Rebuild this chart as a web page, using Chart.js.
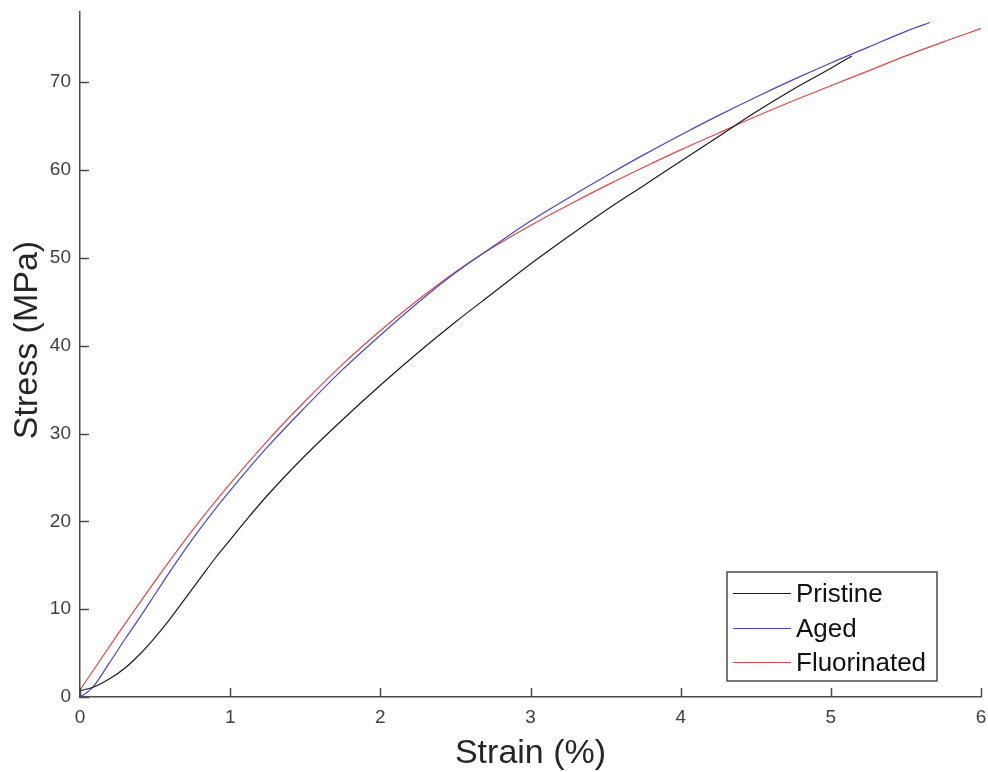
<!DOCTYPE html>
<html>
<head>
<meta charset="utf-8">
<title>Stress - Strain</title>
<script src="https://cdn.jsdelivr.net/npm/chart.js@4.4.1/dist/chart.umd.min.js"></script>
<style>
    html, body { margin: 0; padding: 0; background: #ffffff; }
    canvas { display: block; }
</style>
</head>
<body>
<canvas id="graficoTracao" width="988" height="772"></canvas>
<script>
// Curvas de tracao: deformacao em %, tensao em MPa
const pristineStrain = [0, 0.1, 0.2, 0.3, 0.4, 0.5, 0.6, 0.7, 0.8, 0.9, 1, 1.1, 1.25, 1.5, 1.75, 2, 2.25, 2.5, 2.75, 3, 3.25, 3.5, 3.75, 4, 4.25, 4.5, 4.75, 5, 5.14];
const pristineStress = [0.7, 1.2, 2.1, 3.3, 4.9, 6.8, 8.9, 11.2, 13.5, 15.8, 17.9, 20.0, 23.0, 27.5, 31.6, 35.5, 39.2, 42.7, 46.0, 49.3, 52.4, 55.4, 58.2, 61.0, 63.8, 66.6, 69.2, 71.6, 73.0];

const agedStrain = [0, 0.08, 0.2, 0.3, 0.4, 0.5, 0.6, 0.75, 0.9, 1, 1.25, 1.5, 1.75, 2, 2.25, 2.5, 2.75, 3, 3.25, 3.5, 3.75, 4, 4.25, 4.5, 4.75, 5, 5.25, 5.5, 5.66];
const agedStress = [0, 1.0, 4.0, 6.6, 9.1, 11.7, 14.3, 18.0, 21.4, 23.5, 28.5, 33.0, 37.3, 41.2, 44.9, 48.3, 51.3, 54.2, 56.8, 59.3, 61.7, 64.0, 66.2, 68.3, 70.3, 72.2, 74.0, 75.8, 76.8];

const fluorinatedStrain = [0, 0.25, 0.5, 0.75, 1, 1.25, 1.5, 1.75, 2, 2.25, 2.5, 2.75, 3, 3.25, 3.5, 3.75, 4, 4.25, 4.5, 4.75, 5, 5.25, 5.5, 5.75, 6];
const fluorinatedStress = [0.8, 7.1, 13.2, 19.0, 24.3, 29.2, 33.7, 37.9, 41.7, 45.2, 48.4, 51.2, 53.7, 56.0, 58.2, 60.3, 62.3, 64.2, 66.1, 67.9, 69.6, 71.3, 73.0, 74.6, 76.1];

const strainTicks = [0, 1, 2, 3, 4, 5, 6];
const stressTicks = [0, 10, 20, 30, 40, 50, 60, 70];

const FONTE = "'Liberation Sans', Arial, sans-serif";
const COR_EIXO = '#4a4a4a';

const pares = (xs, ys) => xs.map((x, i) => ({ x: x, y: ys[i] }));

// Ticks para dentro, titulos dos eixos e legenda no canto inferior direito
const eixosExtras = {
    id: 'eixosExtras',
    afterDraw(chart) {
        const { ctx, chartArea: area, scales: { x, y } } = chart;
        ctx.save();

        ctx.strokeStyle = COR_EIXO;
        ctx.lineWidth = 1.5;
        ctx.beginPath();
        x.ticks.forEach(t => {
            const px = Math.round(x.getPixelForValue(t.value)) + 0.5;
            ctx.moveTo(px, area.bottom);
            ctx.lineTo(px, area.bottom - 9);
        });
        y.ticks.forEach(t => {
            const py = Math.round(y.getPixelForValue(t.value)) + 0.5;
            ctx.moveTo(area.left, py);
            ctx.lineTo(area.left + 9, py);
        });
        ctx.stroke();

        ctx.fillStyle = '#262626';
        ctx.font = '34px ' + FONTE;
        ctx.textAlign = 'center';
        ctx.textBaseline = 'alphabetic';
        ctx.fillText('Strain (%)', (area.left + area.right) / 2, 763);

        ctx.save();
        ctx.translate(37, 340);
        ctx.rotate(-Math.PI / 2);
        ctx.fillText('Stress (MPa)', 0, 0);
        ctx.restore();

        // legenda
        const caixa = { left: area.right - 254, top: area.bottom - 125, w: 210, h: 109 };
        ctx.fillStyle = '#ffffff';
        ctx.fillRect(caixa.left, caixa.top, caixa.w, caixa.h);
        ctx.strokeStyle = COR_EIXO;
        ctx.lineWidth = 1.5;
        ctx.strokeRect(caixa.left, caixa.top, caixa.w, caixa.h);

        ctx.font = '26px ' + FONTE;
        ctx.textAlign = 'left';
        ctx.textBaseline = 'middle';
        chart.data.datasets.forEach((ds, i) => {
            const ly = Math.round(caixa.top + 21 + i * 34.5) + 0.5;
            ctx.strokeStyle = ds.borderColor;
            ctx.lineWidth = 1.2;
            ctx.beginPath();
            ctx.moveTo(caixa.left + 6, ly);
            ctx.lineTo(caixa.left + 64, ly);
            ctx.stroke();
            ctx.fillStyle = '#111111';
            ctx.fillText(ds.label, caixa.left + 69, ly + 1);
        });

        ctx.restore();
    }
};

const estiloSerie = (label, dados, cor) => ({
    label: label,
    data: dados,
    borderColor: cor,
    borderWidth: 1.2,
    pointRadius: 0,
    fill: false,
    cubicInterpolationMode: 'monotone'
});

new Chart(document.getElementById('graficoTracao'), {
    type: 'line',
    data: {
        datasets: [
            estiloSerie('Pristine', pares(pristineStrain, pristineStress), '#1a1a1a'),
            estiloSerie('Aged', pares(agedStrain, agedStress), '#4646c8'),
            estiloSerie('Fluorinated', pares(fluorinatedStrain, fluorinatedStress), '#e04646')
        ]
    },
    options: {
        responsive: false,
        animation: false,
        layout: { padding: { top: 12, right: 7, left: 0, bottom: 0 } },
        plugins: {
            legend: { display: false },
            tooltip: { enabled: false }
        },
        scales: {
            x: {
                type: 'linear',
                min: 0,
                max: 6,
                // altura fixa e sem folga lateral para o ultimo rotulo
                afterFit: s => { s.height = 75; s.paddingLeft = 0; s.paddingRight = 0; },
                afterBuildTicks: s => { s.ticks = strainTicks.map(v => ({ value: v })); },
                grid: { display: true, drawOnChartArea: false, drawTicks: false },
                border: { display: true, color: COR_EIXO, width: 1.5 },
                ticks: { padding: 9, color: '#404040', font: { family: FONTE, size: 19 } }
            },
            y: {
                type: 'linear',
                min: 0,
                max: 78,
                afterFit: s => { s.width = 80; s.paddingTop = 0; s.paddingBottom = 0; },
                afterBuildTicks: s => { s.ticks = stressTicks.map(v => ({ value: v })); },
                grid: { display: true, drawOnChartArea: false, drawTicks: false },
                border: { display: true, color: COR_EIXO, width: 1.5 },
                ticks: { padding: 9, color: '#404040', font: { family: FONTE, size: 19 } }
            }
        }
    },
    plugins: [eixosExtras]
});
</script>
</body>
</html>
